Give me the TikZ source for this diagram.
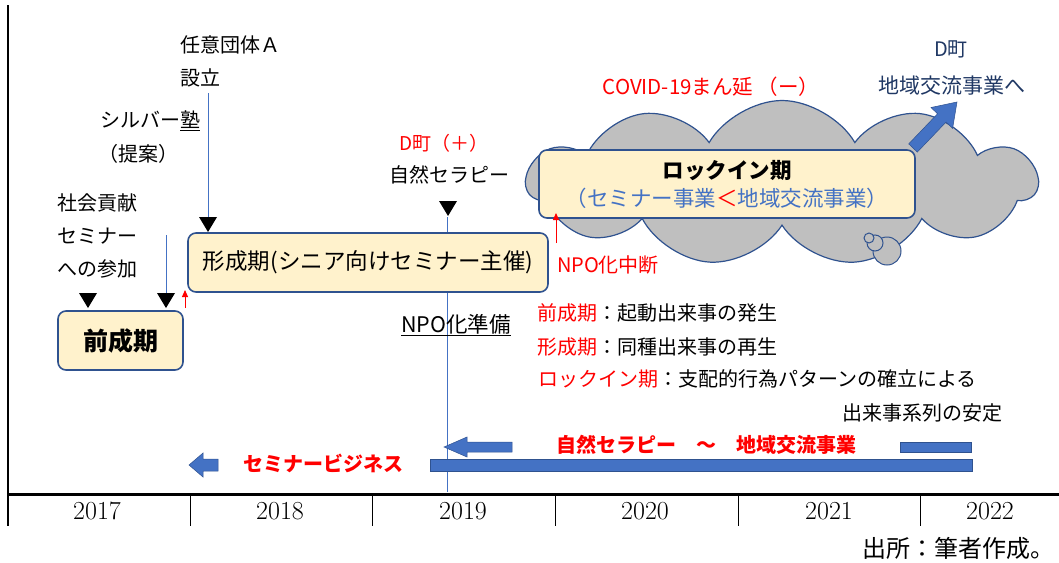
\documentclass[tikz,border=0pt]{standalone}
\usepackage{fontspec}
\newfontfamily\jp{Noto Sans CJK JP}
\newfontfamily\yr{Latin Modern Roman}
\usetikzlibrary{shapes.symbols,arrows.meta}
\definecolor{boxfill}{HTML}{FFF2CC}
\definecolor{boxline}{HTML}{2F528F}
\definecolor{cloudfill}{HTML}{BFBFBF}
\definecolor{blueA}{HTML}{4472C4}
\definecolor{navy}{HTML}{203864}
\definecolor{redA}{HTML}{FF0000}
\tikzset{
  period/.style={draw=boxline, fill=boxfill, rounded corners=8pt, line width=1.6pt, inner sep=0pt, align=center},
  lbl/.style={inner sep=0pt, font=\jp\fontsize{20}{33}\selectfont},
  redlbl/.style={lbl, text=redA},
  thinline/.style={draw=blueA, line width=0.8pt},
  marker/.style={fill=black},
  bar/.style={fill=blueA, draw=boxline, line width=0.5pt},
  redarr/.style={draw=redA, line width=1pt, -{Triangle[length=7pt,width=6pt]}},
  yearlbl/.style={inner sep=0pt, font=\yr\fontsize{26}{28}\selectfont},
  tick/.style={line width=1pt},
}
\begin{document}
\begin{tikzpicture}[x=1pt,y=-1pt]
\useasboundingbox (0,0) rectangle (1059,562);
% axes
\draw[line width=2.5pt] (8,5) -- (8,526);
\draw[line width=3pt] (8,494) -- (1059,494);
\foreach \t in {190,372,555,738,920} \draw[tick] (\t,494) -- (\t,526);
\node[yearlbl] (y17) at (97,511) {2017};
\node[yearlbl] (y18) at (280,511) {2018};
\node[yearlbl] (y19) at (463,511) {2019};
\node[yearlbl] (y20) at (645,511) {2020};
\node[yearlbl] (y21) at (829,511) {2021};
\node[yearlbl] (y22) at (990,511) {2022};
\node[lbl, anchor=east, font=\jp\fontsize{24}{26}\selectfont] (src) at (1055,548) {出所：筆者作成。};

% thin blue lines
\coordinate (ngoTop) at (208,93);
\coordinate (semTop) at (166,235);
\coordinate (natBot) at (447,492);
\draw[thinline] (ngoTop) -- (208,217);
\draw[thinline] (semTop) -- (166,293);
\draw[thinline] (447,217) -- (natBot);

% black markers
\fill[marker] (79,293) -- (97,293) -- (88,308) -- cycle;
\fill[marker] (157,293) -- (175,293) -- (166,308) -- cycle;
\fill[marker] (199,217) -- (217,217) -- (208,232) -- cycle;
\fill[marker] (439,201) -- (457,201) -- (448,216) -- cycle;

% cloud
\node[cloud, cloud puffs=11, cloud puff arc=120, aspect=3, draw=boxline, fill=cloudfill, line width=1.2pt, minimum width=510pt, minimum height=165pt, inner sep=0pt] (cloud) at (782,183) {};
\draw[draw=boxline, fill=cloudfill, line width=1pt] (887,251) circle (14pt);
\draw[draw=boxline, fill=cloudfill, line width=1pt] (875,243) circle (8pt);
\draw[draw=boxline, fill=cloudfill, line width=1pt] (869,238) circle (5pt);
\fill[blueA, draw=boxline, line width=0.5pt] (908.7,143.9) -- (937.5,113.8) -- (931.0,107.5) -- (957,102) -- (952.6,128.3) -- (946.1,122.0) -- (917.3,152.1) -- cycle;

% period boxes
\node[period, minimum width=125pt, minimum height=59pt, font=\jp\bfseries\fontsize{25}{28}\selectfont] (pre) at (120.5,340.5) {前成期};
\node[period, minimum width=360pt, minimum height=59pt, font=\jp\fontsize{22.5}{24}\selectfont] (form) at (368,262.5) {形成期(シニア向けセミナー主催)};
\node[period, minimum width=376pt, minimum height=68pt, font=\jp\fontsize{21.5}{28}\selectfont] (lock) at (727,184) {{\bfseries ロックイン期}\\\textcolor{blueA}{（セミナー事業}\textcolor{redA}{＜}\textcolor{blueA}{地域交流事業）}};

% red small arrows
\draw[redarr] (185,308) -- (185,290);
\draw[redarr] (556,243) -- (556,213);

% labels
\node[lbl, align=left, anchor=west] (ngo) at (180,61) {任意団体Ａ\\設立};
\node[lbl] (silver) at (150,121) {シルバー\underline{塾}};
\node[lbl] (teian) at (138,154) {（提案）};
\node[lbl, align=left, anchor=west] (social) at (57,236) {社会貢献\\セミナー\\への参加};
\node[redlbl, font=\jp\fontsize{19}{22}\selectfont] (dplus) at (444,143) {D町（＋）};
\node[lbl] (nature) at (449,175) {自然セラピー};
\node[redlbl, font=\jp\fontsize{20.5}{22}\selectfont] (covid) at (711,87) {COVID-19まん延 （ー）};
\node[lbl, text=navy] (dtown) at (951,49) {D町};
\node[lbl, text=navy, font=\jp\fontsize{21}{24}\selectfont] (toexch) at (952,86) {地域交流事業へ};
\node[redlbl] (npostop) at (608,265) {NPO化中断};
\node[lbl, font=\jp\fontsize{21.5}{24}\selectfont] (npoprep) at (456,325) {\underline{NPO化準備}};

% legend
\node[lbl, anchor=west] (leg1) at (537,313) {\textcolor{redA}{前成期}：起動出来事の発生};
\node[lbl, anchor=west] (leg2) at (537,347) {\textcolor{redA}{形成期}：同種出来事の再生};
\node[lbl, anchor=west] (leg3) at (538,379) {\textcolor{redA}{ロックイン期}：支配的行為パターンの確立による};
\node[lbl, anchor=east] (leg4) at (1003,413) {出来事系列の安定};

% bottom business bars
\fill[bar] (512,442) -- (467,442) -- (467,437) -- (444,447) -- (467,457) -- (467,452) -- (512,452) -- cycle;
\fill[bar] (900,442) rectangle (971,452);
\fill[bar] (430,459) rectangle (972,471);
\fill[bar] (218,459) -- (203,459) -- (203,453) -- (189,465) -- (203,477) -- (203,471) -- (218,471) -- cycle;
\node[redlbl, font=\jp\bfseries\fontsize{20}{22}\selectfont] (natexch) at (706,445) {自然セラピー　～　地域交流事業};
\node[redlbl, font=\jp\bfseries\fontsize{20}{22}\selectfont] (seminar) at (323,463) {セミナービジネス};
\end{tikzpicture}
\end{document}
